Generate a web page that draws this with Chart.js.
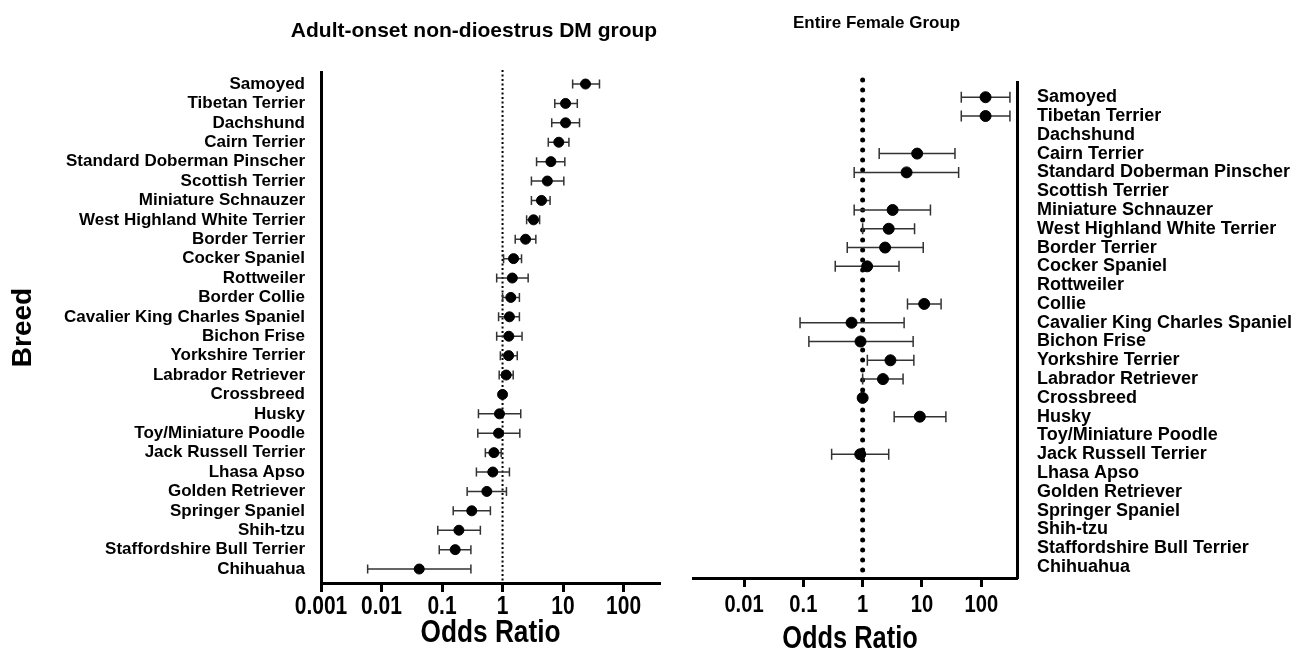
<!DOCTYPE html>
<html>
<head>
<meta charset="utf-8">
<script src="https://cdn.jsdelivr.net/npm/chart.js@4.4.1/dist/chart.umd.min.js"></script>
<style>
  html, body { margin: 0; padding: 0; background: #fff; }
  #wrap { position: relative; width: 1296px; height: 653px; }
  canvas { position: absolute; top: 0; }
  #leftChart { left: 0; }
  #rightChart { left: 680px; }
</style>
</head>
<body>
<div id="wrap">
  <canvas id="leftChart" width="680" height="653"></canvas>
  <canvas id="rightChart" width="616" height="653"></canvas>
</div>
<script>
const breedsLeft = ['Samoyed', 'Tibetan Terrier', 'Dachshund', 'Cairn Terrier', 'Standard Doberman Pinscher',
    'Scottish Terrier', 'Miniature Schnauzer', 'West Highland White Terrier', 'Border Terrier', 'Cocker Spaniel',
    'Rottweiler', 'Border Collie', 'Cavalier King Charles Spaniel', 'Bichon Frise', 'Yorkshire Terrier',
    'Labrador Retriever', 'Crossbreed', 'Husky', 'Toy/Miniature Poodle', 'Jack Russell Terrier', 'Lhasa Apso',
    'Golden Retriever', 'Springer Spaniel', 'Shih-tzu', 'Staffordshire Bull Terrier', 'Chihuahua'];
const breedsRight = ['Samoyed', 'Tibetan Terrier', 'Dachshund', 'Cairn Terrier', 'Standard Doberman Pinscher',
    'Scottish Terrier', 'Miniature Schnauzer', 'West Highland White Terrier', 'Border Terrier', 'Cocker Spaniel',
    'Rottweiler', 'Collie', 'Cavalier King Charles Spaniel', 'Bichon Frise', 'Yorkshire Terrier',
    'Labrador Retriever', 'Crossbreed', 'Husky', 'Toy/Miniature Poodle', 'Jack Russell Terrier', 'Lhasa Apso',
    'Golden Retriever', 'Springer Spaniel', 'Shih-tzu', 'Staffordshire Bull Terrier', 'Chihuahua'];

// adult-onset non-dioestrus DM group
const leftOR   = [23.5, 11, 11, 8.5, 6.3, 5.5, 4.4, 3.25, 2.4, 1.52, 1.45, 1.37, 1.3, 1.27, 1.26, 1.15, 1, 0.89, 0.86, 0.72, 0.69, 0.55, 0.31, 0.19, 0.165, 0.042];
const leftLow  = [14.4, 7.3, 6.5, 5.7, 3.65, 3.0, 3.0, 2.5, 1.62, 1.04, 0.8, 1.0, 0.86, 0.8, 0.92, 0.88, null, 0.4, 0.39, 0.52, 0.37, 0.26, 0.153, 0.085, 0.09, 0.0059];
const leftHigh = [40, 17.2, 18.7, 12.5, 10.7, 10.3, 6.1, 4.1, 3.55, 2.06, 2.65, 1.9, 1.9, 2.1, 1.75, 1.5, null, 2.0, 1.93, 0.95, 1.3, 1.16, 0.63, 0.43, 0.30, 0.30];

// entire female group
const rightOR   = [118, 118, null, 8.3, 5.5, null, 3.2, 2.75, 2.39, 1.19, null, 10.9, 0.65, 0.92, 2.94, 2.2, 1, 9.2, null, 0.91, null, null, null, null, null, null];
const rightLow  = [46, 46, null, 1.9, 0.72, null, 0.72, 1.0, 0.55, 0.345, null, 5.7, 0.088, 0.124, 1.2, 1.0, null, 3.4, null, 0.30, null, null, null, null, null, null];
const rightHigh = [304, 304, null, 36, 41.5, null, 13.9, 7.5, 10.5, 4.1, null, 21, 5.0, 7.1, 7.3, 4.8, null, 25.3, null, 2.75, null, null, null, null, null, null];

const leftTicks = ['0.001', '0.01', '0.1', '1', '10', '100'];
const rightTicks = ['0.01', '0.1', '1', '10', '100'];

const sans = "'Liberation Sans', Arial, sans-serif";

function points(vals) {
    return vals.map((v, i) => v == null ? null : { x: v, y: i }).filter(p => p);
}

// squeezed text, a stand-in for the condensed face of the original
function narrowText(ctx, text, x, y, size, squeeze) {
    ctx.save();
    ctx.font = 'bold ' + size + 'px ' + sans;
    ctx.textAlign = 'center';
    ctx.textBaseline = 'middle';
    ctx.translate(x, y);
    ctx.scale(squeeze, 1);
    ctx.fillText(text, 0, 0);
    ctx.restore();
}

// error bars, reference line at OR = 1, x labels and panel title
const forestPlugin = {
    id: 'forest',
    beforeDatasetsDraw(chart, args, opts) {
        const ctx = chart.ctx;
        const xs = chart.scales.x, ys = chart.scales.y;
        const area = chart.chartArea;
        ctx.save();
        const x1 = xs.getPixelForValue(1);
        ctx.strokeStyle = '#000';
        ctx.lineWidth = opts.refWidth;
        ctx.lineCap = opts.refCap;
        ctx.setLineDash(opts.refDash);
        ctx.beginPath();
        ctx.moveTo(x1, area.top - 2);
        ctx.lineTo(x1, area.bottom);
        ctx.stroke();
        ctx.setLineDash([]);
        ctx.lineCap = 'butt';
        ctx.strokeStyle = '#333';
        ctx.lineWidth = 1.5;
        opts.low.forEach((lo, i) => {
            const hi = opts.high[i];
            if (lo == null || hi == null) return;
            const y = ys.getPixelForValue(i);
            const a = xs.getPixelForValue(lo), b = xs.getPixelForValue(hi);
            ctx.beginPath();
            ctx.moveTo(a, y); ctx.lineTo(b, y);
            ctx.moveTo(a, y - opts.cap); ctx.lineTo(a, y + opts.cap);
            ctx.moveTo(b, y - opts.cap); ctx.lineTo(b, y + opts.cap);
            ctx.stroke();
        });
        ctx.restore();
    },
    afterDraw(chart, args, opts) {
        const ctx = chart.ctx;
        const xs = chart.scales.x;
        ctx.save();
        ctx.fillStyle = '#000';
        opts.tickText.forEach(t => {
            narrowText(ctx, t, xs.getPixelForValue(Number(t)), opts.tickY, opts.tickSize, 0.84);
        });
        narrowText(ctx, 'Odds Ratio', (chart.chartArea.left + chart.chartArea.right) / 2 + opts.axisShift,
            opts.axisY, opts.axisSize, 0.82);
        ctx.font = opts.titleFont;
        ctx.textAlign = opts.titleAlign;
        ctx.textBaseline = 'alphabetic';
        ctx.fillText(opts.title, opts.titleX, opts.titleY);
        ctx.restore();
    }
};

const leftChart = new Chart(document.getElementById('leftChart'), {
    type: 'scatter',
    data: {
        datasets: [{
            data: points(leftOR),
            pointRadius: 5,
            backgroundColor: '#000',
            borderColor: '#000',
        }]
    },
    plugins: [forestPlugin],
    options: {
        responsive: false,
        animation: false,
        layout: { padding: { left: 0, top: 72, right: 20, bottom: 0 } },
        plugins: {
            legend: { display: false },
            tooltip: { enabled: false },
            forest: {
                low: leftLow, high: leftHigh, cap: 4.5,
                refWidth: 2, refCap: 'butt', refDash: [2, 2.5],
                tickText: leftTicks, tickY: 607, tickSize: 25,
                axisY: 633, axisSize: 32, axisShift: 0,
                title: 'Adult-onset non-dioestrus DM group', titleFont: 'bold 21px ' + sans,
                titleAlign: 'center', titleX: 474, titleY: 37
            }
        },
        scales: {
            x: {
                type: 'logarithmic',
                min: 0.001,
                max: 400,
                afterBuildTicks: s => { s.ticks = leftTicks.map(v => ({ value: Number(v) })); },
                afterFit: s => { s.height = 70; },
                ticks: { display: false },
                grid: { drawOnChartArea: false, tickLength: 9, tickWidth: 3, color: '#000' },
                border: { width: 3, color: '#000' }
            },
            y: {
                type: 'linear',
                reverse: true,
                min: -0.62,
                max: 25.72,
                afterBuildTicks: s => { s.ticks = breedsLeft.map((b, i) => ({ value: i })); },
                afterFit: s => { s.width = 321; },
                ticks: { color: '#000', padding: 16, autoSkip: false, font: { family: sans, size: 17, weight: 'bold' }, callback: v => breedsLeft[v] },
                grid: { display: false, drawTicks: false, tickLength: 0 },
                border: { width: 3, color: '#000' },
                title: { display: true, text: 'Breed', color: '#000', padding: { top: 6, bottom: 0 }, font: { family: sans, size: 28, weight: 'bold' } }
            }
        }
    }
});

const rightChart = new Chart(document.getElementById('rightChart'), {
    type: 'scatter',
    data: {
        datasets: [{
            data: points(rightOR),
            pointRadius: 5.5,
            backgroundColor: '#000',
            borderColor: '#000',
        }]
    },
    plugins: [forestPlugin],
    options: {
        responsive: false,
        animation: false,
        layout: { padding: { left: 13, top: 82, right: 0, bottom: 0 } },
        plugins: {
            legend: { display: false },
            tooltip: { enabled: false },
            forest: {
                low: rightLow, high: rightHigh, cap: 5.5,
                refWidth: 5, refCap: 'round', refDash: [0, 10],
                tickText: rightTicks, tickY: 605, tickSize: 24,
                axisY: 639, axisSize: 31, axisShift: -5,
                title: 'Entire Female Group', titleFont: 'bold 17px ' + sans,
                titleAlign: 'left', titleX: 113, titleY: 28
            }
        },
        scales: {
            x: {
                type: 'logarithmic',
                min: 0.00138,
                max: 400,
                afterBuildTicks: s => { s.ticks = rightTicks.map(v => ({ value: Number(v) })); },
                afterFit: s => { s.height = 75; },
                ticks: { display: false },
                grid: { drawOnChartArea: false, tickLength: 9, tickWidth: 3, color: '#000' },
                border: { width: 3, color: '#000' }
            },
            y: {
                type: 'linear',
                position: 'right',
                reverse: true,
                min: -0.81,
                max: 25.585,
                afterBuildTicks: s => { s.ticks = breedsRight.map((b, i) => ({ value: i })); },
                afterFit: s => { s.width = 279; },
                ticks: { color: '#000', padding: 20, autoSkip: false, font: { family: sans, size: 18, weight: 'bold' }, callback: v => breedsRight[v] },
                grid: { display: false, drawTicks: false, tickLength: 0 },
                border: { width: 3, color: '#000' }
            }
        }
    }
});
</script>
</body>
</html>
